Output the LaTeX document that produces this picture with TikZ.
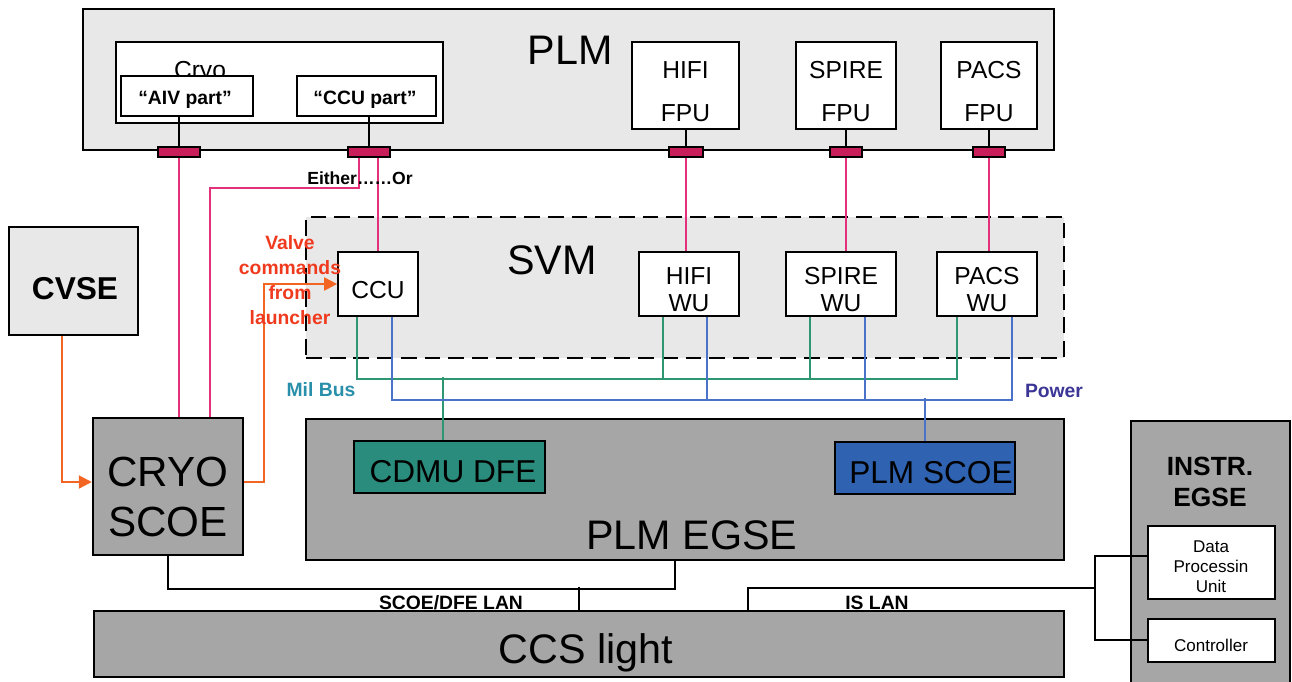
\documentclass[tikz,border=0pt]{standalone}
\usepackage{fontspec}
\setmainfont{Liberation Sans}
\usepackage{tikz}
\usetikzlibrary{arrows.meta,positioning,calc,fit}
\definecolor{lightbox}{HTML}{E8E8E8}
\definecolor{darkbox}{HTML}{A6A6A6}
\definecolor{cdmufill}{HTML}{2A8C7C}
\definecolor{scoefill}{HTML}{2F62B0}
\definecolor{harness}{HTML}{E3307A}
\definecolor{plugfill}{HTML}{C81E5A}
\definecolor{milbus}{HTML}{2E9670}
\definecolor{power}{HTML}{4A72C8}
\definecolor{valve}{HTML}{F26522}
\definecolor{valvetext}{HTML}{F03A1E}
\definecolor{miltext}{HTML}{2A8FAA}
\definecolor{powtext}{HTML}{3C3696}

\begin{document}
\begin{tikzpicture}[
  x=0.02cm, y=-0.02cm,
  every node/.style={inner sep=0pt},
  light/.style={draw, line width=1.4pt, fill=lightbox},
  dark/.style={draw, line width=1.4pt, fill=darkbox},
  unit/.style={draw, line width=1pt, fill=white},
  unittext/.style={align=center, font=\fontsize{14}{15.3}\selectfont},
  parttext/.style={font=\fontsize{11}{13}\selectfont\bfseries},
  plug/.style={draw, line width=0.6pt, fill=plugfill},
  big/.style={align=center, font=\fontsize{23.5}{28.4}\selectfont},
  mid/.style={font=\fontsize{18}{18}\selectfont},
  tiny/.style={align=center, font=\fontsize{9.7}{11.3}\selectfont},
  small/.style={font=\fontsize{11}{14.2}\selectfont\bfseries},
  stub/.style={draw, line width=1.1pt},
  harnessline/.style={draw=harness, line width=1.2pt},
  busline/.style={draw=milbus, line width=1.1pt},
  powline/.style={draw=power, line width=1.1pt},
  lan/.style={draw, line width=1.2pt},
  valveline/.style={draw=valve, line width=1.2pt, -{Triangle[length=2.6mm, width=2.6mm]}}
]
  \useasboundingbox (0,0) rectangle (1292,681);

  % PLM
  \node[light, fit={(83,9)(1054,150)}] (plm) {};
  \node[big] (plmlabel) at (570,50) {PLM};
  \node[unit, fit={(116,42)(443,123)}] (cryo) {};
  \node[font=\fontsize{14}{14}\selectfont, anchor=base] (cryolabel) at (200,78) {Cryo};
  \node[unit, fit={(121,76)(253,116)}] (aiv) {};
  \node[unit, fit={(297,76)(436,116)}] (ccupart) {};
  \node[parttext] (aivtext) at (185,100) {“AIV part”};
  \node[parttext] (ccuparttext) at (365,100) {“CCU part”};

  \node[unit, fit={(632,42)(739,129)}] (hififpu) {};
  \node[unit, fit={(796,42)(896,129)}] (spirefpu) {};
  \node[unit, fit={(941,42)(1037,129)}] (pacsfpu) {};
  \node[unittext, font=\fontsize{14}{24.4}\selectfont] (hififputext) at ($(hififpu.center)+(0,6)$) {HIFI\\FPU};
  \node[unittext, font=\fontsize{14}{24.4}\selectfont] (spirefputext) at ($(spirefpu.center)+(0,6)$) {SPIRE\\FPU};
  \node[unittext, font=\fontsize{14}{24.4}\selectfont] (pacsfputext) at ($(pacsfpu.center)+(0,6)$) {PACS\\FPU};

  \node[plug, fit={(158,147)(200,157)}] (aivplug) {};
  \node[plug, fit={(348,147)(390,157)}] (ccuplug) {};
  \node[plug, fit={(669,147)(703,157)}] (hifiplug) {};
  \node[plug, fit={(830,147)(862,157)}] (spireplug) {};
  \node[plug, fit={(973,147)(1005,157)}] (pacsplug) {};

  \draw[stub] (aiv.south -| aivplug.north) -- (aivplug.north);
  \draw[stub] (ccupart.south -| ccuplug.north) -- (ccuplug.north);
  \draw[stub] (hififpu.south -| hifiplug.north) -- (hifiplug.north);
  \draw[stub] (spirefpu.south -| spireplug.north) -- (spireplug.north);
  \draw[stub] (pacsfpu.south -| pacsplug.north) -- (pacsplug.north);

  % SVM
  \node[light, line width=1.6pt, dash pattern=on 9pt off 4.5pt, fit={(306,217)(1064,358)}] (svm) {};
  \node[big] (svmlabel) at (552,260) {SVM};
  \node[unit, fit={(338,252)(418,316)}] (ccu) {};
  \node[unit, fit={(639,252)(739,316)}] (hifiwu) {};
  \node[unit, fit={(786,252)(896,316)}] (spirewu) {};
  \node[unit, fit={(937,252)(1037,316)}] (pacswu) {};
  \node[unittext] (ccutext) at ($(ccu.center)+(0,6)$) {CCU};
  \node[unittext] (hifiwutext) at ($(hifiwu.center)+(0,5.5)$) {HIFI\\WU};
  \node[unittext] (spirewutext) at ($(spirewu.center)+(0,5.5)$) {SPIRE\\WU};
  \node[unittext] (pacswutext) at ($(pacswu.center)+(0,5.5)$) {PACS\\WU};

  % ground equipment
  \node[light, fit={(9,227)(138,335)}] (cvse) {};
  \node[font=\fontsize{18}{18}\selectfont\bfseries] (cvsetext) at (75,289) {CVSE};
  \node[dark, fit={(93,418)(243,555)}] (cryoscoe) {};
  \node[big, font=\fontsize{24}{28.4}\selectfont] (cryoscoetext) at (168,497) {CRYO\\SCOE};

  \node[dark, fit={(306,419)(1064,560)}] (plmegse) {};
  \node[draw, line width=1pt, fill=cdmufill, fit={(354,441)(545,493)}] (cdmu) {};
  \node[draw, line width=1pt, fill=scoefill, fit={(835,442)(1015,494)}] (plmscoe) {};
  \node[mid] (cdmutext) at (453,472) {CDMU DFE};
  \node[mid] (plmscoetext) at (931,473) {PLM SCOE};
  \node[big] (plmegselabel) at (692,535) {PLM EGSE};

  \node[dark, fit={(94,611)(1064,677)}] (ccs) {};
  \node[big] (ccslabel) at (586,653) {CCS light};

  \node[dark, fit={(1131,421)(1290,690)}] (instr) {};
  \node[align=center, font=\fontsize{15}{18}\selectfont\bfseries] (instrlabel) at (1210,482) {INSTR.\\EGSE};
  \node[unit, fit={(1148,526)(1275,599)}] (dpu) {};
  \node[unit, fit={(1148,619)(1275,662)}] (controller) {};
  \node[tiny] (dputext) at (1211,567) {Data\\Processin\\Unit};
  \node[tiny] (controllertext) at (1211,645) {Controller};

  % Harness
  \draw[harnessline] (aivplug.south) -- (aivplug.south |- cryoscoe.north);
  \coordinate (either) at (210,188);
  \draw[harnessline] ($(ccuplug.south)+(-10,0)$) |- (either) -- (either |- cryoscoe.north);
  \draw[harnessline] (ccu.north |- ccuplug.south) -- (ccu.north);
  \draw[harnessline] (hifiplug.south) -- (hifiplug.south |- hifiwu.north);
  \draw[harnessline] (spireplug.south) -- (spireplug.south |- spirewu.north);
  \draw[harnessline] (pacsplug.south) -- (pacsplug.south |- pacswu.north);

  % Mil Bus and Power
  \draw[busline] ($(ccu.south west)+(20,0)$) |- ($(pacswu.south west)+(21,62)$) -- ($(pacswu.south west)+(21,0)$);
  \draw[busline] ($(hifiwu.south west)+(25,0)$) -- ++(0,62);
  \draw[busline] ($(spirewu.south west)+(25,0)$) -- ++(0,62);
  \draw[busline] ($(cdmu.north)+(-6.5,0)$) -- ++(0,-63);
  \draw[powline] ($(ccu.south east)+(-27,0)$) |- ($(pacswu.south east)+(-26,83)$) -- ($(pacswu.south east)+(-26,0)$);
  \draw[powline] ($(hifiwu.south east)+(-33,0)$) -- ++(0,83);
  \draw[powline] ($(spirewu.south east)+(-32,0)$) -- ++(0,83);
  \draw[powline] (plmscoe.north) -- ++(0,-43);
  \node[small, text=miltext] (milbuslabel) at (321,390) {Mil Bus};
  \node[small, text=powtext] (powerlabel) at (1054,391) {Power};

  % Valve commands
  \draw[valveline] ($(cvse.south)+(-11.5,0)$) |- ($(cryoscoe.west)+(0,-4.5)$);
  \draw[valveline] ($(cryoscoe.east)+(0,-4.5)$) -- ++(20,0) |- (ccu.west);
  \node[small, align=center, text=valvetext] (valvelabel) at (290,280.5) {Valve\\commands\\from\\launcher};
  \node[small, font=\fontsize{10}{12}\selectfont\bfseries] (eitherlabel) at (360,178) {Either……Or};

  % LANs
  \draw[lan] (cryoscoe.south) |- ($(plmegse.south)+(-10,28)$) -- ($(plmegse.south)+(-10,0)$);
  \draw[lan] (ccs.north) -- ++(0,-23);
  \coordinate (islan) at (1095,588);
  \draw[lan] ($(ccs.north)+(169,0)$) |- (islan);
  \draw[lan] ($(dpu.west)+(0,-6.5)$) -| (islan) |- ($(controller.west)+(0,-0.5)$);
  \node[small, anchor=base] (scoelanlabel) at (451,609) {SCOE/DFE LAN};
  \node[small, anchor=base] (islanlabel) at (877,609) {IS LAN};
\end{tikzpicture}
\end{document}
